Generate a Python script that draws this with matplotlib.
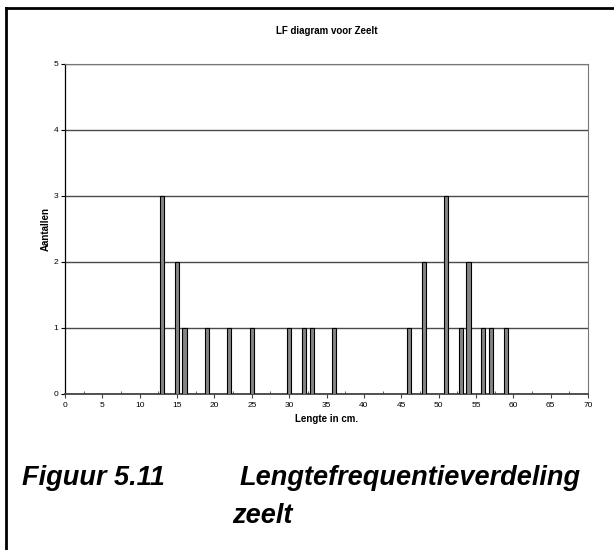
import numpy as np
import matplotlib
matplotlib.use("Agg")
import matplotlib.pyplot as plt
from matplotlib.lines import Line2D
from matplotlib.ticker import MultipleLocator

plt.rcParams['font.family'] = ['Liberation Sans', 'DejaVu Sans']

# lengths (cm) and counts
lengte = [13, 15, 16, 19, 22, 25, 30, 32, 33, 36, 46, 48, 51, 53, 54, 56, 57, 59]
aantal = [3, 2, 1, 1, 1, 1, 1, 1, 1, 1, 1, 2, 3, 1, 2, 1, 1, 1]

fig = plt.figure(figsize=(6.14, 5.5), dpi=100)
ax = fig.add_axes([65 / 614, 1 - 394 / 550, (588 - 65) / 614, (394 - 64) / 550])

ax.bar(lengte, aantal, width=0.55, color='#858585', edgecolor='black', linewidth=0.8, zorder=3)

ax.set_xlim(0, 70)
ax.set_ylim(0, 5)
ax.xaxis.set_major_locator(MultipleLocator(5))
ax.xaxis.set_minor_locator(MultipleLocator(2.5))
ax.yaxis.set_major_locator(MultipleLocator(1))
ax.yaxis.grid(True, color='#4a4a4a', linewidth=1.0)
ax.set_axisbelow(True)

for s in ['top', 'right']:
    ax.spines[s].set_color('#777777')
    ax.spines[s].set_linewidth(0.8)
ax.spines['left'].set_color('black')
ax.spines['left'].set_linewidth(0.9)
ax.spines['bottom'].set_color('#444444')
ax.spines['bottom'].set_linewidth(1.3)

ax.tick_params(axis='x', which='major', direction='out', length=3, labelsize=6, pad=3, color='#444444')
ax.tick_params(axis='x', which='minor', direction='in', length=2, color='#444444')
ax.tick_params(axis='y', direction='out', length=3, labelsize=6, pad=2)

ax.set_xlabel('Lengte in cm.', fontsize=7, fontweight='bold', labelpad=3)
ax.set_ylabel('Aantallen', fontsize=7, fontweight='bold', labelpad=2)
fig.text(0.5 * (65 + 588) / 614, 1 - 31 / 550, 'LF diagram voor Zeelt', ha='center', va='center',
         fontsize=7, fontweight='bold')

# caption below the chart
cap = dict(fontsize=19.5, fontweight='bold', style='italic', va='center')
fig.text(22 / 614, 1 - 478 / 550, 'Figuur 5.11', **cap)
fig.text(240 / 614, 1 - 478 / 550, 'Lengtefrequentieverdeling', **cap)
fig.text(232 / 614, 1 - 516 / 550, 'zeelt', **cap)

# outer frame (top and left edges)
fig.add_artist(Line2D([6 / 614, 1], [1 - 8 / 550, 1 - 8 / 550], color='black', linewidth=2,
                      transform=fig.transFigure))
fig.add_artist(Line2D([6 / 614, 6 / 614], [0, 1 - 8 / 550], color='black', linewidth=2,
                      transform=fig.transFigure))

fig.savefig('out.png', dpi=100)
